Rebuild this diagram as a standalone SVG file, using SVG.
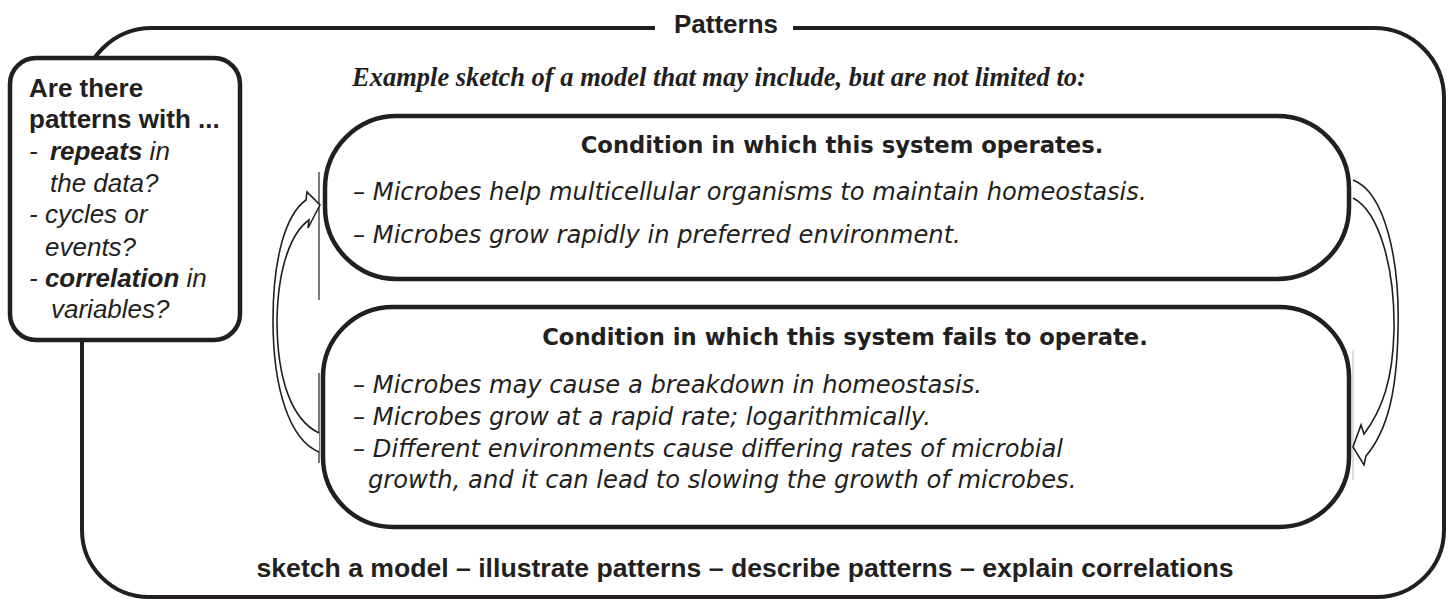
<svg xmlns="http://www.w3.org/2000/svg" width="1452" height="599" viewBox="0 0 1452 599">
<style>
.frame{fill:none;stroke:#231f20;stroke-width:4}
.box{fill:#fff;stroke:#231f20;stroke-width:4.5}
.arrow{fill:#fff;stroke:#231f20;stroke-width:1.6;stroke-linejoin:miter}
.thin{stroke:#231f20;stroke-width:1.2}
.sans{font-family:"Liberation Sans",Arial,sans-serif;fill:#231f20}
.hb{font-family:"Liberation Sans",Arial,sans-serif;font-weight:bold;fill:#231f20}
.ctitle{font-family:"DejaVu Sans","Noto Sans",sans-serif;font-weight:bold;fill:#231f20;font-size:22.7px}
.cline{font-family:"DejaVu Sans","Noto Sans",sans-serif;font-style:italic;fill:#231f20;font-size:24.2px}
.sub{font-family:"Liberation Serif","Times New Roman",serif;font-weight:bold;font-style:italic;fill:#231f20;font-size:26.5px}
</style>
<g id="frame">
<path class="frame" d="M793,28 H1374 A70,70 0 0 1 1444,98 V530 A67,67 0 0 1 1377,597 H149 A67,67 0 0 1 82,530 V98 A70,70 0 0 1 152,28 H655"/>
<text class="hb" x="726" y="33" font-size="26" text-anchor="middle">Patterns</text>
<text class="sub" x="352" y="86">Example sketch of a model that may include, but are not limited to:</text>
<text class="hb" x="745" y="577" font-size="26.6" text-anchor="middle">sketch a model – illustrate patterns – describe patterns – explain correlations</text>
</g>
<g id="question">
<rect class="box" x="10" y="58" width="230" height="282" rx="26"/>
<g class="sans" font-size="26">
<text x="29" y="97" font-weight="bold">Are there</text>
<text x="29" y="128" font-weight="bold">patterns with ...</text>
<text x="29" y="160" font-style="italic">- <tspan dx="5" font-weight="bold">repeats</tspan> in</text>
<text x="50" y="192" font-style="italic">the data?</text>
<text x="29" y="223" font-style="italic">- cycles or</text>
<text x="45" y="256" font-style="italic">events?</text>
<text x="29" y="287" font-style="italic">- <tspan font-weight="bold">correlation</tspan> in</text>
<text x="51" y="318" font-style="italic">variables?</text>
</g>
</g>
<g id="operates">
<rect class="box" x="325" y="116" width="1024" height="163" rx="72"/>
<text class="ctitle" x="842" y="153" text-anchor="middle">Condition in which this system operates.</text>
<text class="cline" x="353" y="200">– Microbes help multicellular organisms to maintain homeostasis.</text>
<text class="cline" x="353" y="243">– Microbes grow rapidly in preferred environment.</text>
</g>
<g id="fails">
<rect class="box" x="323" y="307" width="1026" height="220" rx="70"/>
<text class="ctitle" x="845" y="345" text-anchor="middle">Condition in which this system fails to operate.</text>
<text class="cline" x="353" y="393">– Microbes may cause a breakdown in homeostasis.</text>
<text class="cline" x="353" y="425">– Microbes grow at a rapid rate; logarithmically.</text>
<text class="cline" x="353" y="457">– Different environments cause differing rates of microbial</text>
<text class="cline" x="368" y="488">growth, and it can lead to slowing the growth of microbes.</text>
</g>
<g id="connectors">
<line class="thin" x1="319" y1="172" x2="319" y2="300"/>
<line class="thin" x1="319" y1="373" x2="319" y2="463"/>
<line stroke="#bbb" stroke-width="1" x1="1353" y1="350" x2="1353" y2="480"/>
<path class="arrow" d="M319,452 C290,440 273,390 273,320 C273,260 285,215 306,200 L307,192 L320,205 L308,228 L309,220 C292,232 278,265 277,320 C277,380 292,420 319,433"/>
<path class="arrow" d="M1353,180 C1385,192 1400,260 1398,330 C1397,390 1388,430 1366,456 L1364,465 L1353,447 L1361,425 L1364,434 C1382,410 1393,380 1394,330 C1395,270 1380,212 1353,198"/>
</g>
</svg>
